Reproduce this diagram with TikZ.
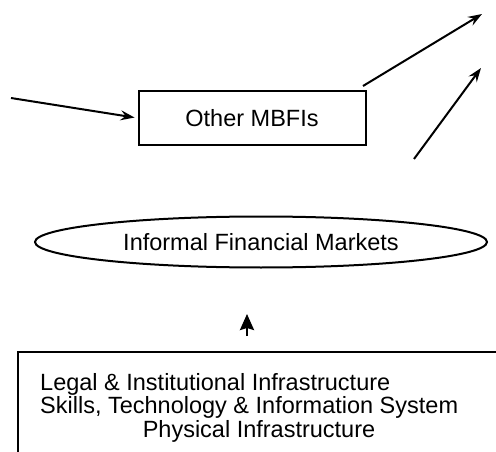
\documentclass[tikz,border=0pt]{standalone}
\usepackage{fontspec}
\setmainfont{Liberation Sans}
\usetikzlibrary{positioning, arrows.meta, shapes.geometric}

\begin{document}
\begin{tikzpicture}[x=1pt, y=-1pt,
		mylabel/.style={font=\fontsize{23.5}{28}\selectfont, inner sep=0pt},
		mbfibox/.style={rectangle, draw, line width=2pt, minimum width=227pt, minimum height=54pt},
		marketoval/.style={ellipse, draw, line width=2pt, minimum width=452pt, minimum height=51pt},
		basebox/.style={rectangle, draw, line width=2.4pt, minimum width=500pt, minimum height=120pt},
		flow/.style={->, line width=2pt},
		uparrow/.style={-{Stealth[length=16pt, width=14pt, inset=2pt]}, line width=2.4pt},
		>={Stealth[length=14pt, width=10pt, inset=5pt]}
	]
	\useasboundingbox (0,0) rectangle (496,452);
	\clip (0,0) rectangle (496,452);

	\node[mbfibox, mylabel] (mbfi) at (252,118) {Other MBFIs};
	\node[marketoval, mylabel] (informal) at (261,242) {Informal Financial Markets};
	\node[basebox, anchor=north west] (infra) at (17,351) {};
	\node[mylabel, anchor=base west] (legal) at (40,390) {Legal \& Institutional Infrastructure};
	\node[mylabel, anchor=base west] (skills) at (40,413) {Skills, Technology \& Information System};
	\node[mylabel, anchor=base] (physical) at (259,437) {Physical Infrastructure};

	\coordinate (inleft) at (11,98);
	\coordinate (outtop) at (482,14);
	\coordinate (outfrom) at (363,86);
	\coordinate (infrom) at (414,159);
	\coordinate (inend) at (481,68);
	\coordinate (uptail) at (247,336);
	\coordinate (uphead) at (247,314);

	\draw[flow, shorten >=3pt] (inleft) -- (mbfi.west);
	\draw[flow] (outfrom) -- (outtop);
	\draw[flow] (infrom) -- (inend);
	\draw[uparrow] (uptail) -- (uphead);

\end{tikzpicture}
\end{document}
